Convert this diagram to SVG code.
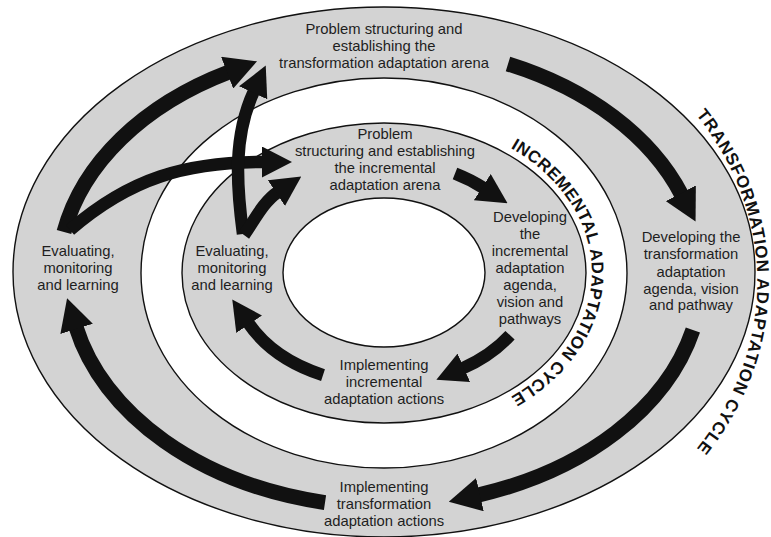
<svg xmlns="http://www.w3.org/2000/svg" width="771" height="537" viewBox="0 0 771 537">
  <style>
    .ring { stroke: #111; stroke-width: 1.4; }
    .band { fill: #d3d3d3; }
    .hole { fill: #ffffff; }
    .lbl { font-family: "Liberation Sans", Arial, sans-serif; font-size: 14.8px; fill: #1e1e1e; text-anchor: middle; }
    .cyc { font-family: "Liberation Sans", Arial, sans-serif; font-size: 17px; font-weight: bold; fill: #111; }
    .arrow { fill: none; stroke: #111; stroke-linecap: butt; }
    .outer { stroke-width: 15; marker-end: url(#headL); }
    .inner { stroke-width: 12.5; marker-end: url(#headM); }
  </style>
  <defs>
    <marker id="headL" markerUnits="userSpaceOnUse" markerWidth="32" markerHeight="34" viewBox="0 0 32 34" refX="2" refY="17" orient="auto">
      <path d="M0,0 L32,17 L0,34 z" fill="#111"/>
    </marker>
    <marker id="headM" markerUnits="userSpaceOnUse" markerWidth="30" markerHeight="31" viewBox="0 0 30 31" refX="2" refY="15.5" orient="auto">
      <path d="M0,0 L30,15.5 L0,31 z" fill="#111"/>
    </marker>
    <path id="incPath" d="M420.1,117.9 A208,157 0 0 1 420.1,427.1"/>
    <path id="trnPath" d="M448.8,-18.4 A373,305 0 0 1 448.8,582.4"/>
  </defs>

  <rect width="771" height="537" fill="#ffffff"/>

  <!-- concentric rings -->
  <g id="rings">
    <ellipse class="ring band" cx="384" cy="272" rx="371" ry="265"/>
    <ellipse class="ring hole" cx="384" cy="273" rx="243" ry="195"/>
    <ellipse class="ring band" cx="384" cy="273" rx="202" ry="150"/>
    <ellipse class="ring hole" cx="384" cy="272.5" rx="101" ry="74.5"/>
  </g>

  <!-- cycle titles -->
  <g id="title-incremental">
    <text class="cyc" letter-spacing="0.5"><textPath href="#incPath" startOffset="50%" text-anchor="middle">INCREMENTAL ADAPTATION CYCLE</textPath></text>
  </g>
  <g id="title-transformation">
    <text class="cyc" letter-spacing="0.9"><textPath href="#trnPath" startOffset="50%" text-anchor="middle">TRANSFORMATION ADAPTATION CYCLE</textPath></text>
  </g>

  <!-- transformation cycle stages -->
  <g id="t-problem">
    <text class="lbl" x="384" y="34">Problem structuring and</text>
    <text class="lbl" x="384" y="51">establishing the</text>
    <text class="lbl" x="384" y="68">transformation adaptation arena</text>
  </g>
  <g id="t-developing">
    <text class="lbl" x="691" y="242">Developing the</text>
    <text class="lbl" x="691" y="259">transformation</text>
    <text class="lbl" x="691" y="276.5">adaptation</text>
    <text class="lbl" x="691" y="293.5">agenda, vision</text>
    <text class="lbl" x="691" y="310">and pathway</text>
  </g>
  <g id="t-implementing">
    <text class="lbl" x="384" y="492">Implementing</text>
    <text class="lbl" x="384" y="509">transformation</text>
    <text class="lbl" x="384" y="526">adaptation actions</text>
  </g>
  <g id="t-evaluating">
    <text class="lbl" x="78" y="256">Evaluating,</text>
    <text class="lbl" x="78" y="273">monitoring</text>
    <text class="lbl" x="78" y="290">and learning</text>
  </g>

  <!-- incremental cycle stages -->
  <g id="i-problem">
    <text class="lbl" x="385" y="138.5">Problem</text>
    <text class="lbl" x="385" y="156">structuring and establishing</text>
    <text class="lbl" x="385" y="173">the incremental</text>
    <text class="lbl" x="385" y="190">adaptation arena</text>
  </g>
  <g id="i-developing">
    <text class="lbl" x="530" y="222">Developing</text>
    <text class="lbl" x="530" y="239">the</text>
    <text class="lbl" x="530" y="256">incremental</text>
    <text class="lbl" x="530" y="273">adaptation</text>
    <text class="lbl" x="530" y="290">agenda,</text>
    <text class="lbl" x="530" y="307">vision and</text>
    <text class="lbl" x="530" y="324">pathways</text>
  </g>
  <g id="i-implementing">
    <text class="lbl" x="384" y="369.5">Implementing</text>
    <text class="lbl" x="384" y="386.5">incremental</text>
    <text class="lbl" x="384" y="403.5">adaptation actions</text>
  </g>
  <g id="i-evaluating">
    <text class="lbl" x="232" y="256">Evaluating,</text>
    <text class="lbl" x="232" y="273">monitoring</text>
    <text class="lbl" x="232" y="290">and learning</text>
  </g>

  <!-- connectors -->
  <g id="connectors">
    <!-- transformation cycle -->
    <path id="t-problem-to-developing" class="arrow outer" d="M508,64 A322,230.5 0 0 1 681.7,195"/>
    <path id="t-developing-to-implementing" class="arrow outer" d="M692.9,330 A322,230.5 0 0 1 478,495.1"/>
    <path id="t-implementing-to-evaluating" class="arrow outer" d="M325,502.6 A322,230.5 0 0 1 76,327"/>
    <path id="t-evaluating-to-problem" class="arrow outer" d="M64,232 A322,230.5 0 0 1 229,72"/>
    <!-- cross links from evaluation -->
    <path id="t-evaluating-to-i-problem" class="arrow inner" d="M70,230 C130,178 186,162 264,162"/>
    <path id="i-evaluating-to-t-problem" class="arrow inner" d="M243,234 C236.5,184.5 233,136.5 254,91"/>
    <!-- incremental cycle -->
    <path id="i-evaluating-to-problem" class="arrow inner" d="M244,235 C254.5,220.4 263,202 278,192"/>
    <path id="i-problem-to-developing" class="arrow inner" d="M455,173.5 A152,112 0 0 1 484,188.2"/>
    <path id="i-developing-to-implementing" class="arrow inner" d="M510,335.2 A152,112 0 0 1 462,368.6"/>
    <path id="i-implementing-to-evaluating" class="arrow inner" d="M323,375.1 A152,112 0 0 1 248,322.6"/>
  </g>
</svg>
